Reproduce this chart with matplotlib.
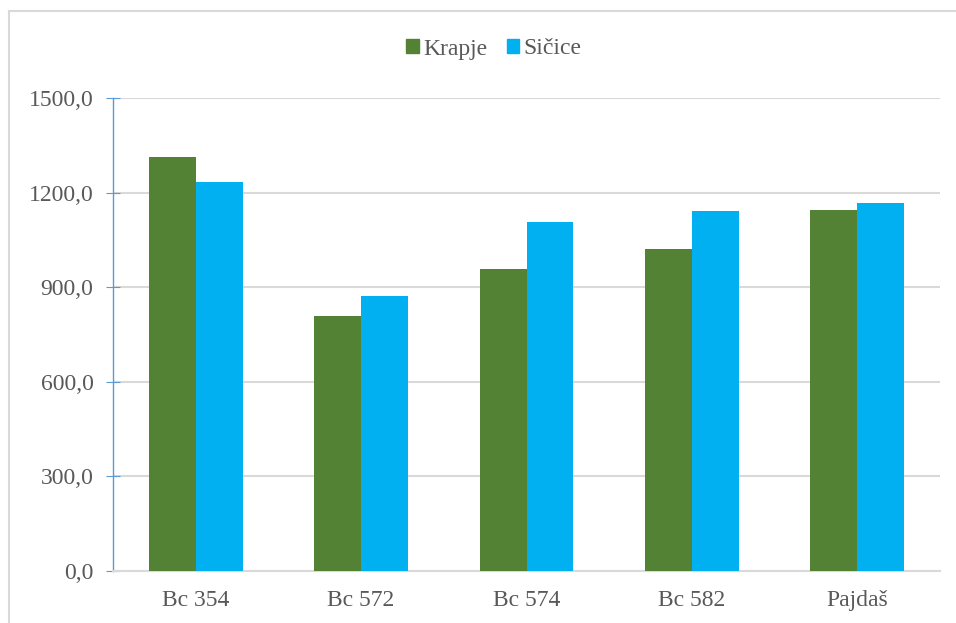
import matplotlib.pyplot as plt
import numpy as np
from matplotlib.patches import Rectangle

# podaci
hibridi = ['Bc 354', 'Bc 572', 'Bc 574', 'Bc 582', 'Pajdaš']
krapje = [1312, 809, 958, 1021, 1145]
sicice = [1233, 872, 1107, 1141, 1167]
y_ticks = [0, 300, 600, 900, 1200, 1500]

plt.rcParams['font.family'] = ['Liberation Serif', 'DejaVu Serif']
tekst = '#595959'

fig = plt.figure(figsize=(9.56, 6.23), dpi=100)
ax = fig.add_axes([113 / 956, 52 / 623, 827 / 956, 473 / 623])

x = np.arange(len(hibridi))
width = 0.283
ax.bar(x - width / 2, krapje, width, color='#548235', label='Krapje', zorder=3)
ax.bar(x + width / 2, sicice, width, color='#00B0F0', label='Sičice', zorder=3)

ax.set_xlim(-0.5, len(hibridi) - 0.5)
ax.set_ylim(0, 1500)
ax.set_yticks(y_ticks)
ax.set_yticklabels([f'{v:.1f}'.replace('.', ',') for v in y_ticks])
ax.set_xticks(x)
ax.set_xticklabels(hibridi)

ax.grid(axis='y', color='#D9D9D9', linewidth=1.5, zorder=0)
for s in ['top', 'right']:
    ax.spines[s].set_visible(False)
ax.spines['bottom'].set_color('#D9D9D9')
ax.spines['bottom'].set_linewidth(1.5)
ax.spines['left'].set_color('#5B9BD5')
ax.spines['left'].set_linewidth(1.0)
ax.tick_params(axis='y', direction='inout', length=10, color='#5B9BD5',
               labelsize=17, labelcolor=tekst, pad=9)
ax.tick_params(axis='x', length=0, labelsize=17, labelcolor=tekst, pad=14)

handles = [Rectangle((0, 0), 1, 1, color='#548235'),
           Rectangle((0, 0), 1, 1, color='#00B0F0')]
leg = fig.legend(handles, ['Krapje', 'Sičice'], loc='center',
                 bbox_to_anchor=(494 / 956, 1 - 49 / 623), ncol=2, frameon=False,
                 fontsize=17, handlelength=0.52, handleheight=0.52,
                 handletextpad=0.2, columnspacing=0.8)
for t in leg.get_texts():
    t.set_color(tekst)

# okvir grafikona
fig.add_artist(plt.Line2D([9 / 956, 9 / 956], [0, 1 - 11 / 623],
                          transform=fig.transFigure, color='#D9D9D9', linewidth=1.5))
fig.add_artist(plt.Line2D([9 / 956, 1], [1 - 11 / 623, 1 - 11 / 623],
                          transform=fig.transFigure, color='#D9D9D9', linewidth=1.5))

fig.savefig('out.png', dpi=100)
